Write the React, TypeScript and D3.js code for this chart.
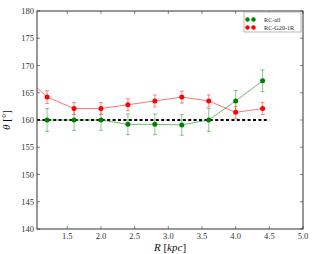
import React, { useEffect, useRef } from 'react';
import * as d3 from 'd3';

const radii = [0.8, 1.2, 1.6, 2.0, 2.4, 2.8, 3.2, 3.6, 4.0, 4.4];
const rcAll = [159.7, 160.0, 160.0, 160.0, 159.2, 159.2, 159.1, 160.0, 163.5, 167.2];
const rcAllErr = [2.0, 2.1, 1.9, 1.9, 1.9, 1.9, 1.9, 2.1, 1.9, 2.0];
const rcG20 = [168.8, 164.2, 162.1, 162.1, 162.8, 163.5, 164.2, 163.5, 161.4, 162.1];
const rcG20Err = [1.1, 1.15, 1.1, 1.1, 1.1, 1.1, 1.1, 1.1, 1.1, 1.1];
const xTicks = [1.5, 2.0, 2.5, 3.0, 3.5, 4.0, 4.5, 5.0];
const yTicks = [140, 145, 150, 155, 160, 165, 170, 175, 180];
const refAngle = 160;
const refRange = [1.05, 4.5];

const series = [
  { name: 'RC-all', values: rcAll, errs: rcAllErr, color: 'green' },
  { name: 'RC-G20-1R', values: rcG20, errs: rcG20Err, color: 'red' },
];

const App = () => {
  const svgRef = useRef(null);

  useEffect(() => {
    if (!svgRef.current) return;
    const margin = { top: 11, right: 13, bottom: 25, left: 37 };
    const width = 316 - margin.left - margin.right;
    const height = 254 - margin.top - margin.bottom;

    const root = d3.select(svgRef.current);
    root.selectAll('*').remove();
    const svg = root
      .append('g')
      .attr('transform', `translate(${margin.left},${margin.top})`);

    const x = d3.scaleLinear().domain([1.05, 5.0]).range([0, width]);
    const y = d3.scaleLinear().domain([140, 180]).range([height, 0]);
    const font = "'Liberation Serif', 'DejaVu Serif', serif";

    svg
      .append('clipPath')
      .attr('id', 'plot-clip')
      .append('rect')
      .attr('width', width)
      .attr('height', height);

    const plot = svg.append('g').attr('clip-path', 'url(#plot-clip)');

    // reference line
    plot
      .append('line')
      .attr('x1', x(refRange[0]))
      .attr('x2', x(refRange[1]))
      .attr('y1', y(refAngle))
      .attr('y2', y(refAngle))
      .attr('stroke', '#000')
      .attr('stroke-width', 2.2)
      .attr('stroke-dasharray', '3,2.4');

    const line = d3
      .line<number>()
      .x((d, i) => x(radii[i]))
      .y((d) => y(d));

    series.forEach((s) => {
      plot
        .append('path')
        .datum(s.values)
        .attr('d', line)
        .attr('fill', 'none')
        .attr('stroke', s.color)
        .attr('stroke-opacity', 0.55)
        .attr('stroke-width', 1);

      s.values.forEach((v, i) => {
        const cx = x(radii[i]);
        plot
          .append('line')
          .attr('x1', cx)
          .attr('x2', cx)
          .attr('y1', y(v - s.errs[i]))
          .attr('y2', y(v + s.errs[i]))
          .attr('stroke', s.color)
          .attr('stroke-opacity', 0.45)
          .attr('stroke-width', 1);
        [-1, 1].forEach((k) => {
          plot
            .append('line')
            .attr('x1', cx - 2)
            .attr('x2', cx + 2)
            .attr('y1', y(v + k * s.errs[i]))
            .attr('y2', y(v + k * s.errs[i]))
            .attr('stroke', s.color)
            .attr('stroke-opacity', 0.45)
            .attr('stroke-width', 1);
        });
        plot
          .append('circle')
          .attr('cx', cx)
          .attr('cy', y(v))
          .attr('r', 2.5)
          .attr('fill', s.color);
      });
    });

    // frame
    svg
      .append('rect')
      .attr('width', width)
      .attr('height', height)
      .attr('fill', 'none')
      .attr('stroke', '#333')
      .attr('stroke-width', 1);

    // ticks
    xTicks.forEach((t) => {
      svg
        .append('line')
        .attr('x1', x(t))
        .attr('x2', x(t))
        .attr('y1', height)
        .attr('y2', height - 3)
        .attr('stroke', '#333')
        .attr('stroke-width', 0.6);
      svg
        .append('line')
        .attr('x1', x(t))
        .attr('x2', x(t))
        .attr('y1', 0)
        .attr('y2', 3)
        .attr('stroke', '#333')
        .attr('stroke-width', 0.6);
      svg
        .append('text')
        .attr('x', x(t))
        .attr('y', height + 10)
        .attr('text-anchor', 'middle')
        .attr('font-family', font)
        .attr('font-size', 8.5)
        .attr('fill', '#333')
        .text(t.toFixed(1));
    });

    yTicks.forEach((t) => {
      svg
        .append('line')
        .attr('x1', 0)
        .attr('x2', 3)
        .attr('y1', y(t))
        .attr('y2', y(t))
        .attr('stroke', '#333')
        .attr('stroke-width', 0.6);
      svg
        .append('line')
        .attr('x1', width)
        .attr('x2', width - 3)
        .attr('y1', y(t))
        .attr('y2', y(t))
        .attr('stroke', '#333')
        .attr('stroke-width', 0.6);
      svg
        .append('text')
        .attr('x', -3)
        .attr('y', y(t) + 3)
        .attr('text-anchor', 'end')
        .attr('font-family', font)
        .attr('font-size', 8.5)
        .attr('fill', '#333')
        .text(t.toFixed(0));
    });

    // axis labels
    const xl = svg
      .append('text')
      .attr('x', width / 2)
      .attr('y', height + 22)
      .attr('text-anchor', 'middle')
      .attr('font-family', font)
      .attr('font-size', 11)
      .attr('fill', '#111');
    xl.append('tspan').attr('font-style', 'italic').text('R');
    xl.append('tspan').text(' [');
    xl.append('tspan').attr('font-style', 'italic').text('kpc');
    xl.append('tspan').text(']');

    const yl = svg
      .append('text')
      .attr('transform', `translate(${-27},${height / 2}) rotate(-90)`)
      .attr('text-anchor', 'middle')
      .attr('font-family', font)
      .attr('font-size', 11)
      .attr('fill', '#111');
    yl.append('tspan').attr('font-style', 'italic').text('θ');
    yl.append('tspan').text(' [°]');

    // legend
    const lg = svg.append('g').attr('transform', `translate(${width - 59},1)`);
    lg.append('rect')
      .attr('width', 57)
      .attr('height', 20)
      .attr('fill', '#fff')
      .attr('stroke', '#999')
      .attr('stroke-width', 0.7);
    series.forEach((s, i) => {
      const ly = 7.5 + i * 8;
      [3.5, 9.5].forEach((mx) => {
        lg.append('circle')
          .attr('cx', mx)
          .attr('cy', ly)
          .attr('r', 2.2)
          .attr('fill', s.color);
      });
      lg.append('text')
        .attr('x', 20)
        .attr('y', ly + 2)
        .attr('font-family', font)
        .attr('font-size', 6.2)
        .attr('fill', '#222')
        .text(s.name);
    });

    return () => {
      root.selectAll('*').remove();
    };
  }, []);

  return (
    <svg
      ref={svgRef}
      width={316}
      height={254}
      style={{ position: 'absolute', left: 0, top: 0, background: '#fff' }}
    />
  );
};

export default App;
